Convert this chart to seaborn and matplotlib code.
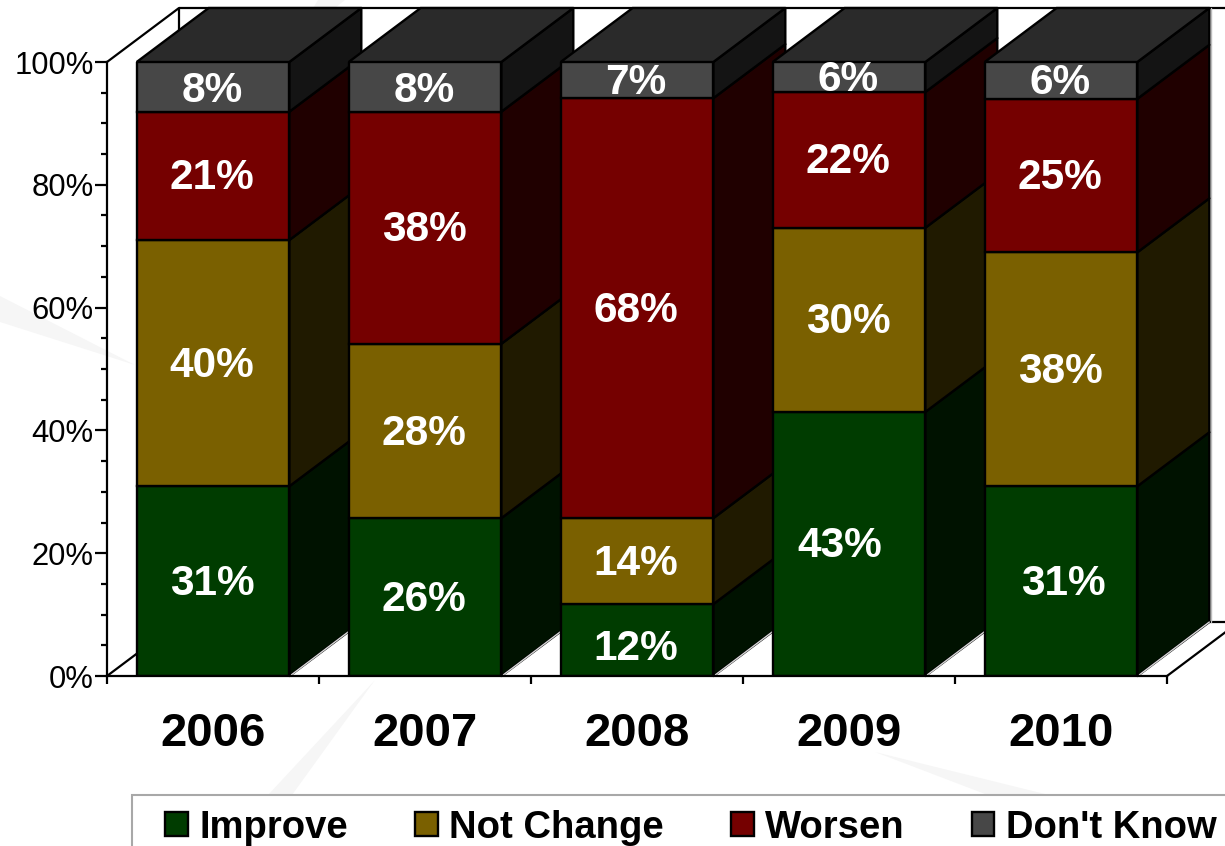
import matplotlib
matplotlib.use("Agg")
import matplotlib.pyplot as plt
from matplotlib.patches import Polygon, Rectangle
import pandas as pd
import seaborn as sns

years = ["2006", "2007", "2008", "2009", "2010"]
improve = [30.9, 25.7, 11.7, 43.0, 30.9]
not_change = [40.1, 28.4, 14.0, 30.0, 38.1]
worsen = [20.9, 37.8, 68.4, 22.1, 25.0]
dont_know = [8.1, 8.1, 5.9, 4.9, 6.0]
improve_lbl = ["31%", "26%", "12%", "43%", "31%"]
not_change_lbl = ["40%", "28%", "14%", "30%", "38%"]
worsen_lbl = ["21%", "38%", "68%", "22%", "25%"]
dont_know_lbl = ["8%", "8%", "7%", "6%", "6%"]
series = ["Improve", "Not Change", "Worsen", "Don't Know"]
front = ["#003C00", "#7A6000", "#750000", "#474747"]
side = ["#001200", "#201A00", "#200000", "#141414"]
top_colour = "#2A2A2A"

W, H = 1225, 846
sns.set_theme(style="white")
plt.rcParams["font.family"] = ["Liberation Sans", "DejaVu Sans"]
fig = plt.figure(figsize=(W / 100, H / 100), dpi=100, facecolor="white")
ax = fig.add_axes([107 / W, 1 - 676 / H, 1060 / W, 614 / H])
ax.patch.set_visible(False)

# faint background swooshes
for pts in [
    [(0, 296), (135, 365), (0, 322)],
    [(345, 0), (318, 0), (300, 30), (325, 16)],
    [(375, 680), (268, 795), (292, 795)],
    [(875, 752), (1045, 794), (985, 794)],
]:
    fig.add_artist(Polygon([(x / W, 1 - y / H) for x, y in pts], closed=True,
                           transform=fig.transFigure, fc="#F6F6F6", ec="none", zorder=-5))

df = pd.DataFrame({"year": years, "Improve": improve, "Not Change": not_change,
                   "Worsen": worsen, "Don't Know": dont_know})
labels = [improve_lbl, not_change_lbl, worsen_lbl, dont_know_lbl]
bottoms = [0.0] * len(years)
lw = 1.7
for name, colour in zip(series, front):
    sns.barplot(data=df, x="year", y=name, ax=ax, color=colour, width=0.72,
                saturation=1, bottom=list(bottoms), edgecolor="black",
                linewidth=lw, label=name, legend=False)
    bottoms = [b + v for b, v in zip(bottoms, df[name])]

ax.set_xlim(-0.5, 4.5)
ax.set_ylim(0, 100)
DX, DY = 72 / 212, 54 / 614 * 100
half = 0.36

# walls / floor
wall = dict(color="black", lw=1.6, clip_on=False, zorder=1, solid_capstyle="butt")
ax.plot([-0.5, -0.5 + DX, -0.5 + DX], [100, 100 + DY, DY], **wall)
ax.plot([-0.5 + DX, 5.2], [100 + DY, 100 + DY], **wall)
ax.plot([-0.5, -0.5 + DX, 5.2], [0, DY, DY], **wall)
ax.plot([4.5, 4.5 + DX], [0, DY], **wall)

# hand-placed label nudges, in pixels (series index, year index)
nudge = {(0, 3): (-8, 0), (0, 4): (3, 0), (0, 2): (0, -6), (3, 0): (0, -2), (3, 1): (0, -2)}

for i in range(len(years)):
    base = 5 + 2 * i
    xl, xr = i - half, i + half
    b = 0.0
    for k, (name, s) in enumerate(zip(series, side)):
        v = df[name][i]
        ax.add_patch(Polygon([(xr, b), (xr + DX, b + DY), (xr + DX, b + v + DY), (xr, b + v)],
                             closed=True, fc=s, ec="black", lw=lw, clip_on=False,
                             zorder=base, joinstyle="round"))
        ax.containers[k][i].set_zorder(base + 1)
        nx, ny = nudge.get((k, i), (0, 0))
        ax.annotate(labels[k][i], xy=(i, b + v / 2), xytext=(nx - 1, ny + 2),
                    textcoords="offset pixels", color="white", fontsize=30.5,
                    fontweight="bold", ha="center", va="center_baseline", zorder=40)
        b += v
    ax.add_patch(Polygon([(xl, 100), (xl + DX, 100 + DY), (xr + DX, 100 + DY), (xr, 100)],
                         closed=True, fc=top_colour, ec="black", lw=lw, clip_on=False,
                         zorder=base))
    ax.plot([xr + 0.01, xr + DX], [0.2, DY], color="#D8D8D8", lw=1, zorder=base + 0.5, clip_on=False)

# pale edge just right of the last bar's back edge
ax.plot([4 + half + DX + 0.009] * 2, [DY, 100 + DY], color="#BBBBBB", lw=1, zorder=2, clip_on=False)

for sp in ["top", "right"]:
    ax.spines[sp].set_visible(False)
for sp in ["left", "bottom"]:
    ax.spines[sp].set_linewidth(1.6)
    ax.spines[sp].set_color("black")
    ax.spines[sp].set_zorder(30)

ax.set_xlabel("")
ax.set_ylabel("")
ax.set_xticks([-0.5, 0.5, 1.5, 2.5, 3.5, 4.5])
ax.set_xticklabels([])
ax.set_xticks(range(len(years)), minor=True)
ax.set_xticklabels(years, minor=True, fontsize=34, fontweight="bold", color="black")
ax.tick_params(axis="x", which="major", length=6, width=1.6, color="black", bottom=True)
ax.tick_params(axis="x", which="minor", length=0, pad=26, bottom=True)
ax.set_yticks(range(0, 101, 20))
ax.set_yticklabels([f"{v}%" for v in range(0, 101, 20)], fontsize=22.3, color="black")
ax.set_yticks(range(0, 101, 5), minor=True)
ax.tick_params(axis="y", which="major", length=9, width=1.6, color="black", pad=0.5, left=True)
ax.tick_params(axis="y", which="minor", length=4, width=1.6, color="black", left=True)

fig.add_artist(Rectangle((132 / W, 1 - 870 / H), 1200 / W, 75 / H, transform=fig.transFigure,
                         fc="white", ec="#A8A8A8", lw=1.5, zorder=5))
handles = [c.patches[0] for c in ax.containers]
leg = fig.legend(handles, series, loc="upper left", bbox_to_anchor=(165 / W, 1 - 809.5 / H),
                 ncol=4, frameon=False, prop=dict(weight="bold", size=27.5),
                 borderpad=0, borderaxespad=0, handlelength=0.6, handleheight=0.6,
                 handletextpad=0.3, columnspacing=1.75, labelspacing=0)
leg.set_zorder(6)
for t in leg.get_texts():
    t.set_color("black")

fig.savefig("out.png", dpi=100)
